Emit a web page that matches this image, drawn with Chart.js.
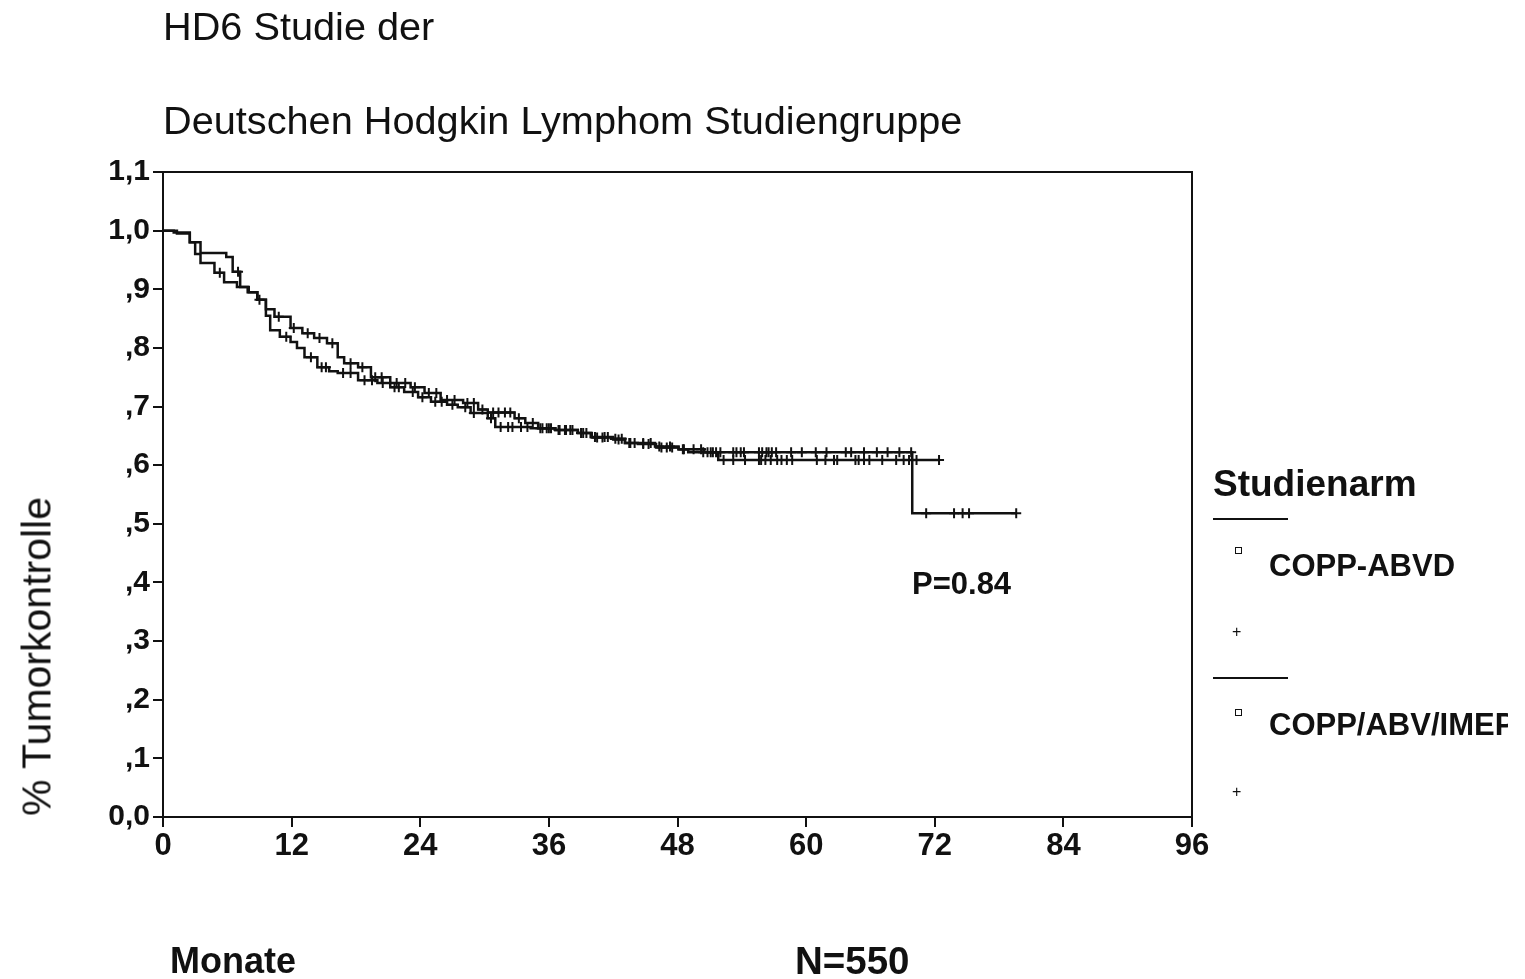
<!DOCTYPE html>
<html>
<head>
<meta charset="utf-8">
<script src="https://cdn.jsdelivr.net/npm/chart.js@4"></script>
<style>
  body { margin: 0; background: #fff; width: 1525px; height: 979px; position: relative; overflow: hidden;
         font-family: "Liberation Sans", Arial, sans-serif; color: #111; }
  .t { position: absolute; white-space: nowrap; line-height: 1; }
  #chart { position: absolute; left: 0; top: 0; }
</style>
</head>
<body>
<canvas id="chart" width="1525" height="979"></canvas>

<div class="t" style="left:163px; top:7px; font-size:39.7px;">HD6 Studie der</div>
<div class="t" style="left:163px; top:101px; font-size:39.7px;">Deutschen Hodgkin Lymphom Studiengruppe</div>
<div class="t" style="left:-163px; top:636px; width:400px; height:41px; text-align:center; font-size:41px; transform:rotate(-90deg);">% Tumorkontrolle</div>
<div class="t" style="left:170px; top:943px; font-size:36px; font-weight:bold;">Monate</div>
<div class="t" style="left:795px; top:942px; font-size:38.5px; font-weight:bold;">N=550</div>
<div class="t" style="left:912px; top:568px; font-size:31px; font-weight:bold;">P=0.84</div>

<div class="t" style="left:1213px; top:465px; font-size:37px; font-weight:bold;">Studienarm</div>
<div style="position:absolute; left:1213px; top:518px; width:75px; height:2px; background:#111;"></div>
<div style="position:absolute; left:1235px; top:547px; width:5px; height:5px; border:1.5px solid #111;"></div>
<div class="t" style="left:1269px; top:550px; font-size:31px; font-weight:bold;">COPP-ABVD</div>
<div class="t" style="left:1232px; top:624px; font-size:16px;">+</div>
<div style="position:absolute; left:1213px; top:677px; width:75px; height:2px; background:#111;"></div>
<div style="position:absolute; left:1235px; top:709px; width:5px; height:5px; border:1.5px solid #111;"></div>
<div class="t" style="left:1269px; top:709px; width:239px; overflow:hidden; font-size:31px; font-weight:bold;">COPP/ABV/IMEP</div>
<div class="t" style="left:1232px; top:784px; font-size:16px;">+</div>

<script>
// x axis: months, y axis: proportion with tumour control
const xTicks = [0, 12, 24, 36, 48, 60, 72, 84, 96];
const yTickLabels = ['0,0', ',1', ',2', ',3', ',4', ',5', ',6', ',7', ',8', ',9', '1,0', '1,1'];

// COPP-ABVD arm: event times (months) and survival after each event
const arm1Times = [0, 1.3, 2.5, 3.5, 5.9, 6.5, 7.2, 8.0, 8.8, 9.6, 10.0, 10.9, 11.9, 12.5, 13.2, 14.4, 15.5, 16.3,
  18.2, 20.0, 21.2, 22.5, 23.8, 25.0, 26.5, 27.5, 28.7, 30.3, 31.0, 34.3, 36.6, 38.7, 40.0, 41.8, 43.1, 44.3,
  46.0, 48.1, 49.0, 69.9, 79.6];
const arm1Surv = [1.0, 0.995, 0.98, 0.962, 0.955, 0.93, 0.904, 0.895, 0.882, 0.855, 0.83, 0.819, 0.81, 0.80, 0.784,
  0.767, 0.76, 0.757, 0.745, 0.74, 0.733, 0.725, 0.716, 0.708, 0.703, 0.699, 0.689, 0.68, 0.665, 0.663, 0.66,
  0.655, 0.647, 0.645, 0.638, 0.636, 0.63, 0.627, 0.622, 0.518, 0.518];
const arm1Censored = [7.0, 11.5, 13.8, 14.8, 15.2, 16.8, 17.5, 18.8, 19.5, 20.5, 21.6, 22.0, 23.3, 24.2, 25.4, 26.0,
  27.0, 28.2, 29.0, 30.6, 31.5, 32.2, 32.6, 33.4, 34.0, 35.2, 35.8, 36.2, 37.0, 37.5, 38.0, 39.0, 39.5, 40.5,
  41.0, 42.2, 42.8, 43.6, 44.8, 45.3, 46.5, 47.0, 47.5, 48.5, 50.4, 51.1, 51.6, 52.0, 53.2, 53.5, 53.9, 54.2,
  55.6, 55.9, 56.3, 56.5, 56.8, 57.2, 58.6, 59.6, 60.9, 61.9, 63.7, 64.2, 65.4, 66.6, 67.6, 68.7, 69.8,
  71.2, 73.8, 74.6, 75.2, 79.6];

// COPP/ABV/IMEP arm
const arm2Times = [0, 1.0, 2.5, 3.0, 3.5, 4.8, 5.7, 6.9, 7.9, 8.8, 9.6, 10.4, 11.9, 13.0, 14.1, 15.3, 16.3, 16.9,
  18.2, 19.4, 21.2, 23.1, 24.4, 25.9, 28.0, 29.4, 30.3, 32.8, 33.8, 35.0, 36.6, 38.7, 39.9, 42.0, 43.1, 45.9,
  48.1, 50.5, 51.8, 72.4];
const arm2Surv = [1.0, 0.997, 0.98, 0.96, 0.945, 0.928, 0.912, 0.904, 0.895, 0.882, 0.866, 0.853, 0.834, 0.825,
  0.817, 0.808, 0.784, 0.774, 0.767, 0.75, 0.74, 0.733, 0.723, 0.711, 0.706, 0.695, 0.69, 0.68, 0.672, 0.663,
  0.66, 0.655, 0.648, 0.644, 0.638, 0.632, 0.627, 0.622, 0.609, 0.609];
const arm2Censored = [5.3, 9.0, 10.8, 12.2, 13.5, 14.6, 15.8, 17.5, 18.6, 19.8, 20.4, 21.8, 22.6, 23.5, 24.8, 25.5,
  26.5, 27.2, 28.4, 29.0, 29.8, 30.8, 31.3, 31.9, 32.4, 33.2, 34.5, 35.4, 36.0, 36.9, 37.6, 38.2, 39.2, 40.3,
  41.2, 41.5, 42.5, 43.5, 44.0, 44.8, 45.5, 46.3, 47.3, 48.6, 49.5, 50.2, 50.8, 51.3, 52.3, 53.2, 54.3, 55.6,
  55.8, 56.2, 56.7, 57.3, 57.7, 58.2, 58.7, 61.0, 61.8, 62.6, 62.9, 64.6, 64.9, 65.4, 65.9, 67.1, 68.4, 69.1,
  69.6, 70.3, 72.4];

function stepValue(times, surv, t) {
  let v = surv[0];
  for (let i = 0; i < times.length; i++) {
    if (times[i] <= t) v = surv[i];
  }
  return v;
}

function curve(times, surv) {
  return times.map((t, i) => ({ x: t, y: surv[i] }));
}

function marks(cens, times, surv) {
  return cens.map(t => ({ x: t, y: stepValue(times, surv, t) }));
}

const frame = {
  id: 'frame',
  afterDraw(chart) {
    const a = chart.chartArea;
    const ctx = chart.ctx;
    ctx.save();
    ctx.strokeStyle = '#111';
    ctx.lineWidth = 2;
    ctx.strokeRect(a.left, a.top, a.right - a.left, a.bottom - a.top);
    ctx.restore();
  }
};

const lineStyle = { showLine: true, stepped: true, borderColor: '#111', borderWidth: 2.5, pointRadius: 0, fill: false };
const markStyle = { showLine: false, pointStyle: 'cross', pointRadius: 5, borderColor: '#111', pointBorderWidth: 2 };

const tickFont = { family: '"Liberation Sans", Arial, sans-serif', size: 30, weight: 'bold' };

new Chart(document.getElementById('chart').getContext('2d'), {
  type: 'scatter',
  data: {
    datasets: [
      Object.assign({ label: 'COPP-ABVD', data: curve(arm1Times, arm1Surv) }, lineStyle),
      Object.assign({ label: 'COPP/ABV/IMEP', data: curve(arm2Times, arm2Surv) }, lineStyle),
      Object.assign({ label: 'COPP-ABVD zensiert', data: marks(arm1Censored, arm1Times, arm1Surv) }, markStyle),
      Object.assign({ label: 'COPP/ABV/IMEP zensiert', data: marks(arm2Censored, arm2Times, arm2Surv) }, markStyle)
    ]
  },
  options: {
    responsive: false,
    animation: false,
    devicePixelRatio: 1,
    layout: { padding: { top: 172, right: 333, bottom: 102, left: 0 } },
    plugins: { legend: { display: false }, tooltip: { enabled: false } },
    scales: {
      x: {
        type: 'linear',
        min: 0, max: 96,
        afterBuildTicks: s => { s.ticks = xTicks.map(v => ({ value: v })); },
        afterFit: s => { s.height = 60; },
        grid: { drawOnChartArea: false, drawTicks: true, tickLength: 10, color: '#111', lineWidth: 2 },
        border: { color: '#111', width: 2 },
        ticks: { color: '#111', font: Object.assign({}, tickFont, { size: 31 }), padding: 1, maxRotation: 0 }
      },
      y: {
        type: 'linear',
        min: 0, max: 1.1,
        afterBuildTicks: s => { s.ticks = yTickLabels.map((l, i) => ({ value: i / 10 })); },
        afterFit: s => { s.width = 163; },
        grid: { drawOnChartArea: false, drawTicks: true, tickLength: 10, color: '#111', lineWidth: 2 },
        border: { color: '#111', width: 2 },
        ticks: { color: '#111', font: tickFont, padding: 3,
                 callback: v => yTickLabels[Math.round(v * 10)] }
      }
    }
  },
  plugins: [frame]
});
</script>
</body>
</html>
